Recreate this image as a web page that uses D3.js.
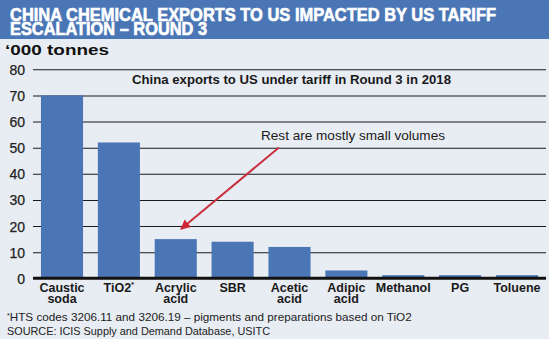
<!DOCTYPE html>
<html>
<head>
<meta charset="utf-8">
<script src="https://cdn.jsdelivr.net/npm/d3@7"></script>
<style>
  html, body { margin: 0; padding: 0; background: #e8ecf3; }
  svg { display: block; }
</style>
</head>
<body>
<div id="chart"></div>
<script>
// ---- Data ----
const categories = ["Caustic soda", "TiO2*", "Acrylic acid", "SBR", "Acetic acid", "Adipic acid", "Methanol", "PG", "Toluene"];
const labelLines = [["Caustic", "soda"], ["TiO2", "*"], ["Acrylic", "acid"], ["SBR"], ["Acetic", "acid"], ["Adipic", "acid"], ["Methanol"], ["PG"], ["Toluene"]];
const values = [70, 52, 15, 14, 12, 3, 1.2, 1.2, 1.2];
const yTicks = [0, 10, 20, 30, 40, 50, 60, 70, 80];
const titleLines = ["CHINA CHEMICAL EXPORTS TO US IMPACTED BY US TARIFF", "ESCALATION \u2013 ROUND 3"];
const unitLabel = "\u2018000 tonnes";
const subtitle = "China exports to US under tariff in Round 3 in 2018";
const annotation = "Rest are mostly small volumes";
const footnote = "HTS codes 3206.11 and 3206.19 \u2013 pigments and preparations based on TiO2";
const source = "SOURCE: ICIS Supply and Demand Database, USITC";

// ---- Layout ----
const W = 549, H = 339;
const blue = "#4a76b6";
const bg = "#e8ecf3";
const svg = d3.select("#chart").append("svg").attr("width", W).attr("height", H);
svg.append("rect").attr("width", W).attr("height", H).attr("fill", bg);

// Header band
svg.append("rect").attr("x", 0).attr("y", 0).attr("width", W).attr("height", 39).attr("fill", blue);
const titleWidths = [486, 197];
titleLines.forEach((t, i) => {
  svg.append("text")
    .attr("x", 10).attr("y", 20.5 + i * 14.4)
    .attr("font-family", "Liberation Sans, Arial, sans-serif")
    .attr("font-weight", "bold").attr("font-size", 18)
    .attr("fill", "#fff").attr("stroke", "#fff").attr("stroke-width", 0.6)
    .attr("textLength", titleWidths[i]).attr("lengthAdjust", "spacingAndGlyphs")
    .text(t);
});

svg.append("text")
  .attr("x", 5).attr("y", 54.5)
  .attr("font-family", "Liberation Sans, Arial, sans-serif")
  .attr("font-weight", "bold").attr("font-size", 15)
  .attr("fill", "#111")
  .attr("textLength", 104).attr("lengthAdjust", "spacingAndGlyphs")
  .text(unitLabel);

// Scales
const x = d3.scaleBand().domain(categories).range([33, 546]).paddingInner(0.26).paddingOuter(0.14);
const y = d3.scaleLinear().domain([0, 80]).range([278.3, 69.3]);

// Gridlines via axis
const grid = svg.append("g").attr("transform", "translate(546,0)")
  .call(d3.axisLeft(y).tickValues(yTicks.filter(d => d > 0)).tickSize(513).tickFormat(""));
grid.select(".domain").remove();
grid.selectAll("line").attr("stroke", "#1a1a1a").attr("stroke-width", 1.1);

// Y labels
const yAxis = svg.append("g").attr("transform", "translate(33,0)")
  .call(d3.axisLeft(y).tickValues(yTicks).tickSize(0).tickPadding(8));
yAxis.select(".domain").remove();
yAxis.selectAll("text")
  .attr("font-family", "Liberation Sans, Arial, sans-serif")
  .attr("font-size", 14).attr("fill", "#222").attr("dy", "0.36em")
  .attr("stroke", "#222").attr("stroke-width", 0.25);

// Bars
svg.append("g").selectAll("rect").data(values).join("rect")
  .attr("x", (d, i) => x(categories[i]))
  .attr("width", x.bandwidth())
  .attr("y", d => y(d))
  .attr("height", d => y(0) - y(d))
  .attr("fill", blue);

// Baseline
svg.append("line").attr("x1", 33).attr("x2", 546).attr("y1", y(0)).attr("y2", y(0))
  .attr("stroke", "#111").attr("stroke-width", 3);

// Category labels
labelLines.forEach((lines, i) => {
  const cx = x(categories[i]) + x.bandwidth() / 2;
  const t = svg.append("text")
    .attr("x", cx).attr("y", 292)
    .attr("text-anchor", "middle")
    .attr("font-family", "Liberation Sans, Arial, sans-serif")
    .attr("font-weight", "bold").attr("font-size", 12.5).attr("fill", "#1a1a1a");
  if (lines[1] === "*") {
    t.append("tspan").text(lines[0]);
    t.append("tspan").attr("font-size", 8).attr("dy", -5).text("*");
  } else {
    t.append("tspan").attr("x", cx).text(lines[0]);
    if (lines[1]) t.append("tspan").attr("x", cx).attr("dy", 10.5).text(lines[1]);
  }
});

// Subtitle
svg.append("text")
  .attr("x", 132).attr("y", 84)
  .attr("font-family", "Liberation Sans, Arial, sans-serif")
  .attr("font-weight", "bold").attr("font-size", 13).attr("fill", "#1a1a1a")
  .attr("textLength", 319).attr("lengthAdjust", "spacingAndGlyphs")
  .text(subtitle);

// Annotation
svg.append("text")
  .attr("x", 261).attr("y", 140)
  .attr("font-family", "Liberation Sans, Arial, sans-serif")
  .attr("font-size", 13).attr("fill", "#1a1a1a")
  .attr("textLength", 184).attr("lengthAdjust", "spacingAndGlyphs")
  .text(annotation);

// Arrow
const defs = svg.append("defs");
defs.append("marker").attr("id", "ah").attr("viewBox", "0 0 10 10")
  .attr("refX", 9).attr("refY", 5).attr("markerWidth", 5).attr("markerHeight", 5)
  .attr("markerUnits", "strokeWidth").attr("orient", "auto")
  .append("path").attr("d", "M0,0 L10,5 L0,10 z").attr("fill", "#d0283b");
svg.append("line")
  .attr("x1", 279).attr("y1", 147.5).attr("x2", 181).attr("y2", 229)
  .attr("stroke", "#c8303f").attr("stroke-width", 2)
  .attr("marker-end", "url(#ah)");

// Footnotes
const fn = svg.append("text")
  .attr("x", 7).attr("y", 321)
  .attr("font-family", "Liberation Sans, Arial, sans-serif")
  .attr("font-size", 11).attr("fill", "#222");
fn.append("tspan").attr("font-size", 7).attr("dy", -3).text("*");
fn.append("tspan").attr("dy", 3).attr("textLength", 402).attr("lengthAdjust", "spacingAndGlyphs").text(footnote);

svg.append("text")
  .attr("x", 7).attr("y", 334.5)
  .attr("font-family", "Liberation Sans, Arial, sans-serif")
  .attr("font-size", 11).attr("fill", "#222")
  .attr("textLength", 263).attr("lengthAdjust", "spacingAndGlyphs")
  .text(source);
</script>
</body>
</html>
